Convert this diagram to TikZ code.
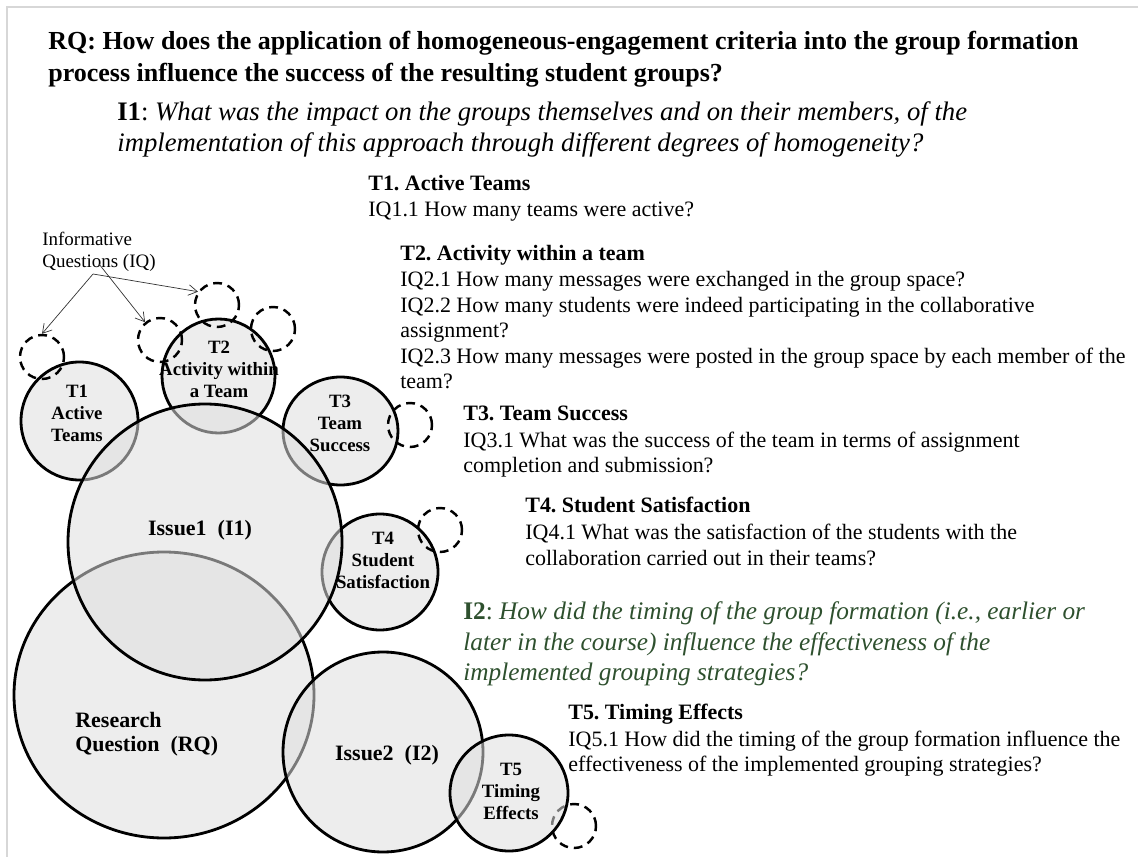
\documentclass[tikz,border=0pt]{standalone}
\usepackage{fontspec}
\setmainfont{Liberation Serif}
\usetikzlibrary{arrows.meta}
\definecolor{issuegreen}{RGB}{46,80,46}
\definecolor{framegray}{RGB}{215,215,215}
\frenchspacing

\begin{document}
\begin{tikzpicture}[x=0.02cm, y=-0.02cm, >={Straight Barb[length=5pt,width=6pt]}]

% --- Styles ---
\tikzset{
    topic/.style={fill=black!13, fill opacity=0.55, draw=black, line width=1.6pt},
    iqcircle/.style={circle, draw=black, line width=1.4pt, dash pattern=on 5pt off 3.4pt, minimum size=0.88cm, inner sep=0pt},
    iqarrow/.style={->, thin, draw=black!80},
    rqtext/.style={anchor=base west, inner sep=0pt, font=\fontsize{14.8}{17}\selectfont\bfseries},
    issuetext/.style={anchor=base west, inner sep=0pt, font=\fontsize{15.2}{17}\selectfont\itshape},
    issuetwo/.style={anchor=base west, inner sep=0pt, text=issuegreen, font=\fontsize{14.4}{17}\selectfont\itshape},
    headtext/.style={anchor=base west, inner sep=0pt, font=\fontsize{12.5}{15}\selectfont\bfseries},
    bodytext/.style={anchor=base west, inner sep=0pt, font=\fontsize{12.5}{15}\selectfont},
    circlabel/.style={align=center, inner sep=0pt, font=\fontsize{10.7}{12.5}\selectfont\bfseries},
    biglabel/.style={inner sep=0pt, font=\fontsize{12.5}{15}\selectfont\bfseries}
}

\useasboundingbox (0,0) rectangle (1138,857);
\draw[framegray, line width=1pt] (7,857) -- (7,7) -- (1138,7);

% Hoofdvraag en issues
\node[rqtext] (rq1) at (48,50) {RQ: How does the application of homogeneous-engagement criteria into the group formation};
\node[rqtext] (rq2) at (48,82) {process influence the success of the resulting student groups?};
\node[issuetext] (is1a) at (117,121) {{\upshape\bfseries I1}{\upshape :} What was the impact on the groups themselves and on their members, of the};
\node[issuetext] (is1b) at (117,152) {implementation of this approach through different degrees of homogeneity?};

% Topics en informatieve vragen
\node[headtext] (h1) at (368,191) {T1. Active Teams};
\node[bodytext] (q11) at (368,217) {IQ1.1 How many teams were active?};

\node[headtext] (h2) at (400,261) {T2. Activity within a team};
\node[bodytext] (q21) at (400,287) {IQ2.1 How many messages were exchanged in the group space?};
\node[bodytext] (q22) at (400,313) {IQ2.2 How many students were indeed participating in the collaborative};
\node[bodytext] (q22b) at (400,338) {assignment?};
\node[bodytext] (q23) at (400,364) {IQ2.3 How many messages were posted in the group space by each member of the};
\node[bodytext] (q23b) at (400,389) {team?};

\node[headtext] (h3) at (463,421) {T3. Team Success};
\node[bodytext] (q31) at (463,448) {IQ3.1 What was the success of the team in terms of assignment};
\node[bodytext] (q31b) at (463,473) {completion and submission?};

\node[headtext] (h4) at (525,512) {T4. Student Satisfaction};
\node[bodytext] (q41) at (525,539) {IQ4.1 What was the satisfaction of the students with the};
\node[bodytext] (q41b) at (525,565) {collaboration carried out in their teams?};

\node[issuetwo] (is2a) at (463,619) {{\upshape\bfseries I2}{\upshape :} How did the timing of the group formation (i.e., earlier or};
\node[issuetwo] (is2b) at (463,650) {later in the course) influence the effectiveness of the};
\node[issuetwo] (is2c) at (463,680) {implemented grouping strategies?};

\node[headtext] (h5) at (568,719) {T5. Timing Effects};
\node[bodytext] (q51) at (568,746) {IQ5.1 How did the timing of the group formation influence the};
\node[bodytext] (q51b) at (568,771) {effectiveness of the implemented grouping strategies?};

% Cirkels (volgorde bepaalt wat erover ligt)
\path[topic] (79.5,421) ellipse [x radius=58.5, y radius=59];   % T1
\path[topic] (218.5,376) ellipse [x radius=56.5, y radius=57];  % T2
\path[topic] (340.5,431) ellipse [x radius=57.5, y radius=54];  % T3
\path[topic] (380,572) ellipse [x radius=58, y radius=58];      % T4
\path[topic] (164,695) ellipse [x radius=150, y radius=143];    % RQ
\path[topic] (205,542) ellipse [x radius=137, y radius=138];    % Issue1
\path[topic] (383,752) ellipse [x radius=100, y radius=100];    % Issue2
\node[iqcircle] (iq7) at (574,826) {};
\path[topic] (509,793) ellipse [x radius=59, y radius=58];      % T5

% Informatieve vragen (gestippeld)
\node[iqcircle] (iq1) at (42,357) {};
\node[iqcircle] (iq2) at (160,340) {};
\node[iqcircle] (iq3) at (217,305) {};
\node[iqcircle] (iq4) at (273,329) {};
\node[iqcircle] (iq5) at (410,425) {};
\node[iqcircle] (iq6) at (440,530) {};

% Labels in de cirkels
\node[circlabel] (l1) at (77,413) {T1\\Active\\Teams};
\node[circlabel] (l2) at (219,369) {T2\\Activity within\\a Team};
\node[circlabel] (l3) at (340,423) {T3\\Team\\Success};
\node[circlabel] (l4) at (383,560) {T4\\Student\\Satisfaction};
\node[circlabel] (l5) at (511,791) {T5\\Timing\\Effects};
\node[biglabel] (li1) at (200,530) {Issue1~~(I1)};
\node[biglabel] (li2) at (387,755) {Issue2~~(I2)};
\node[biglabel, anchor=west] (lrq1) at (75,720) {Research};
\node[biglabel, anchor=west] (lrq2) at (75,746) {Question~~(RQ)};

% Uitleg met pijlen
\node[anchor=base west, inner sep=0pt, font=\fontsize{10.8}{12.5}\selectfont] (iqa) at (42,246) {Informative};
\node[anchor=base west, inner sep=0pt, font=\fontsize{10.8}{12.5}\selectfont] (iqb) at (42,268) {Questions (IQ)};
\coordinate (iqfork) at (93,274);
\coordinate (iqforkb) at (99,264);
\draw[iqarrow] (iqfork) -- (iq1.north);
\draw[iqarrow] (iqforkb) -- (iq2.130);
\draw[iqarrow] (iqfork) -- (iq3.145);

\end{tikzpicture}
\end{document}
